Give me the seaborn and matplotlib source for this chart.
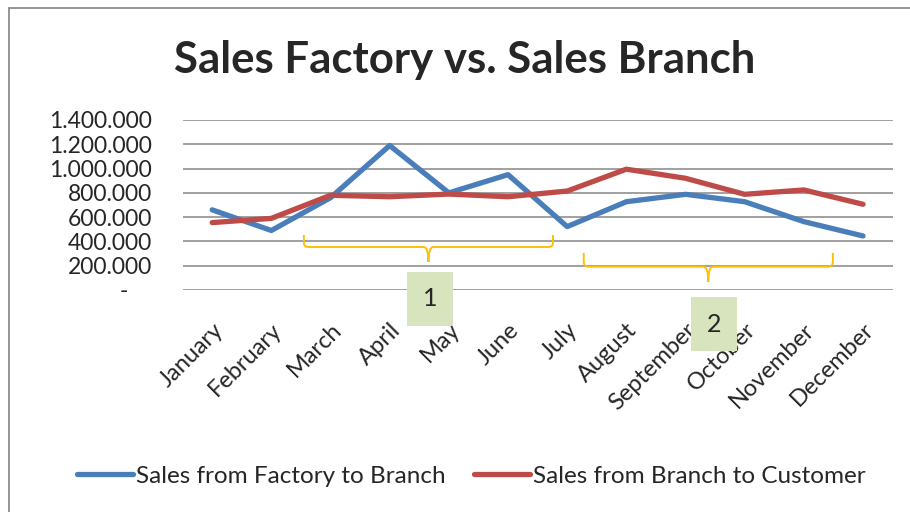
import numpy as np
import pandas as pd
import matplotlib
matplotlib.use("Agg")
import matplotlib.pyplot as plt
from matplotlib.path import Path
from matplotlib.patches import PathPatch
from matplotlib.lines import Line2D
from matplotlib.ticker import FuncFormatter
import seaborn as sns

months = ["January", "February", "March", "April", "May", "June", "July",
          "August", "September", "October", "November", "December"]
factoryToBranch = [660000, 490000, 760000, 1190000, 800000, 950000, 522000,
                   727000, 788000, 727000, 563000, 445000]
branchToCustomer = [555000, 590000, 780000, 768000, 790000, 768000, 815000,
                    995000, 920000, 788000, 824000, 706000]
seriesNames = ["Sales from Factory to Branch", "Sales from Branch to Customer"]
yTicks = [0, 200000, 400000, 600000, 800000, 1000000, 1200000, 1400000]

# braces: (x start, x end, y top, y bar, y tip) in data units
braces = [(1.55, 5.76, 453000, 354000, 231000),
          (6.28, 10.49, 305000, 192000, 68000)]
boxLabels = ["1", "2"]
boxPos = [(3.68, -74000), (8.48, -280000)]

df = pd.DataFrame({"month": months * 2,
                   "x": list(range(len(months))) * 2,
                   "value": factoryToBranch + branchToCustomer,
                   "series": [seriesNames[0]] * 12 + [seriesNames[1]] * 12})

sns.set_style("white")
plt.rcParams['font.family'] = ['Lato', 'DejaVu Sans']

fig = plt.figure(figsize=(9.1, 5.12), dpi=100)
ax = fig.add_axes([182.6 / 910, 1 - 290 / 512, 710 / 910, 170 / 512])

sns.lineplot(data=df, x="x", y="value", hue="series", ax=ax,
             palette=["#4A7EBB", "#BE4B48"], linewidth=3.8,
             solid_capstyle="round", legend=True)

ax.set_xlim(-0.5, 11.5)
ax.set_ylim(0, 1400000)
ax.set_yticks(yTicks)
ax.yaxis.set_major_formatter(FuncFormatter(
    lambda v, p: "-    " if v == 0 else f"{v:,.0f}".replace(",", ".")))
ax.set_xticks(range(len(months)))
ax.set_xticklabels(months, rotation=45, ha="right", va="top", rotation_mode="anchor")
ax.tick_params(axis="x", length=0, pad=21, labelsize=17)
ax.tick_params(axis="y", length=0, pad=22, labelsize=16.5)
ax.set_xlabel("")
ax.set_ylabel("")
ax.grid(axis="y", color="#868686", linewidth=1.1)
ax.grid(axis="x", visible=False)
sns.despine(ax=ax, left=True, bottom=True)
ax.set_axisbelow(True)

for (x0, x1, yt, yb, ytip) in braces:
    xc = (x0 + x1) / 2
    rx = 0.08
    ry = (yt - yb) * 0.35
    verts = [(x0, yt), (x0, yb + ry), (x0, yb), (x0 + rx, yb), (xc - rx, yb), (xc, yb), (xc, ytip),
             (x1, yt), (x1, yb + ry), (x1, yb), (x1 - rx, yb), (xc + rx, yb), (xc, yb), (xc, ytip)]
    codes = [Path.MOVETO, Path.LINETO, Path.CURVE3, Path.CURVE3, Path.LINETO, Path.CURVE3, Path.CURVE3,
             Path.MOVETO, Path.LINETO, Path.CURVE3, Path.CURVE3, Path.LINETO, Path.CURVE3, Path.CURVE3]
    ax.add_patch(PathPatch(Path(verts, codes), fill=False, edgecolor="#FFC000", linewidth=1.4))

for lbl, (bx, by) in zip(boxLabels, boxPos):
    ax.text(bx, by, lbl, ha="center", va="center", fontsize=18, zorder=10, clip_on=False,
            bbox=dict(boxstyle="square,pad=0.62", facecolor="#D7E4BD", edgecolor="none"))

fig.text(0.511, 0.882, "Sales Factory vs. Sales Branch", ha="center", va="center",
         fontsize=31.5, fontweight="bold")

handles, labels = ax.get_legend_handles_labels()
ax.legend(handles, labels, loc="center", bbox_to_anchor=(0.518, 0.07),
          bbox_transform=fig.transFigure, ncol=2, frameon=False, fontsize=17.5,
          handlelength=2.3, handletextpad=0.1, columnspacing=1.2)

# chart area border
fig.add_artist(Line2D([9 / 910, 9 / 910], [0, 1 - 8 / 512], color="#8C8C8C", linewidth=1.3))
fig.add_artist(Line2D([9 / 910, 1], [1 - 8 / 512, 1 - 8 / 512], color="#8C8C8C", linewidth=1.3))

fig.savefig("out.png", dpi=100)
